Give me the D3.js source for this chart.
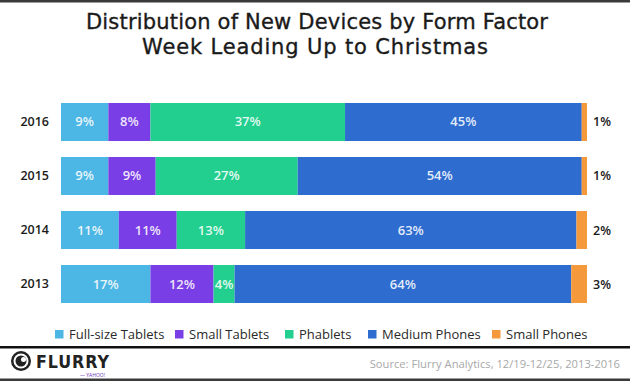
<!DOCTYPE html>
<html><head><meta charset="utf-8">
<script src="https://cdn.jsdelivr.net/npm/d3@7/dist/d3.min.js"></script>
<style>
html,body{margin:0;padding:0;background:#fff;}
svg{display:block;font-family:"Open Sans",sans-serif;}
</style></head>
<body><svg id="c" width="630" height="381"></svg>
<script>
const years = ["2016", "2015", "2014", "2013"];
const seriesNames = ["Full-size Tablets", "Small Tablets", "Phablets", "Medium Phones", "Small Phones"];
const fullSizeTablets = [9, 9, 11, 17];
const smallTablets = [8, 9, 11, 12];
const phablets = [37, 27, 13, 4];
const mediumPhones = [45, 54, 63, 64];
const smallPhones = [1, 1, 2, 3];
const colors = ["#4cb6e4", "#7a3ee6", "#23cf8f", "#2e6dcf", "#f59a3c"];
const titleLines = ["Distribution of New Devices by Form Factor", "Week Leading Up to Christmas"];
const sourceText = "Source: Flurry Analytics, 12/19-12/25, 2013-2016";

const seriesValues = [fullSizeTablets, smallTablets, phablets, mediumPhones, smallPhones];
const rows = years.map((y, i) => {
  const r = {year: y};
  seriesNames.forEach((s, j) => r[s] = seriesValues[j][i]);
  return r;
});
const stack = d3.stack().keys(seriesNames)(rows);

const svg = d3.select("#c");
const W = 630, H = 381;

// frame lines
svg.append("rect").attr("x", 0).attr("y", 0).attr("width", W).attr("height", 2.5).attr("fill", "#3a3a3a");
svg.append("rect").attr("x", 0).attr("y", 346).attr("width", W).attr("height", 2.5).attr("fill", "#111");
svg.append("rect").attr("x", 0).attr("y", 378.5).attr("width", W).attr("height", 2.5).attr("fill", "#3a3a3a");

// title
const titleTargets = [[86, 548, 29], [142, 488, 54]];
const titleSize = 20;
titleLines.forEach((t, i) => {
  const tx = svg.append("text").text(t)
    .attr("x", (titleTargets[i][0] + titleTargets[i][1]) / 2)
    .attr("y", titleTargets[i][2])
    .attr("text-anchor", "middle")
    .attr("font-family", "'DejaVu Sans',sans-serif")
    .attr("font-size", titleSize).attr("fill", "#1a1a1a")
    .attr("stroke", "#1a1a1a").attr("stroke-width", 0.35);
  const len = tx.node().getComputedTextLength();
  const target = titleTargets[i][1] - titleTargets[i][0];
  const fs = Math.min(21, titleSize * target / len);
  tx.attr("font-size", fs);
  const len2 = tx.node().getComputedTextLength();
  if (Math.abs(len2 - target) > 2) tx.attr("textLength", target).attr("lengthAdjust", "spacing");
});

const x = d3.scaleLinear().domain([0, 100]).range([61, 587]);
const y = d3.scaleBand().domain(years).range([103, 303]).paddingInner(0.2963).paddingOuter(0);

const g = svg.append("g");
stack.forEach((layer, j) => {
  g.selectAll(null).data(layer).enter().append("rect")
    .attr("x", d => x(d[0]))
    .attr("y", d => y(d.data.year))
    .attr("width", d => x(d[1]) - x(d[0]))
    .attr("height", y.bandwidth())
    .attr("fill", colors[j]);
  if (j < 4) {
    g.selectAll(null).data(layer).enter().append("text")
      .attr("x", d => (x(d[0]) + x(d[1])) / 2)
      .attr("y", d => y(d.data.year) + y.bandwidth() / 2 + 4.5)
      .attr("text-anchor", "middle")
      .attr("font-size", 13).attr("font-weight", 600)
      .attr("fill", "rgba(255,255,255,0.88)")
      .text(d => (d[1] - d[0]) + "%");
  } else {
    g.selectAll(null).data(layer).enter().append("text")
      .attr("x", d => x(d[1]) + 6)
      .attr("y", d => y(d.data.year) + y.bandwidth() / 2 + 4.5)
      .attr("font-size", 12.5).attr("font-weight", 600)
      .attr("fill", "#1a1a1a")
      .text(d => (d[1] - d[0]) + "%");
  }
});

// year axis
const ax = svg.append("g").attr("transform", "translate(61,0)")
  .call(d3.axisLeft(y).tickSize(0).tickPadding(12));
ax.select(".domain").remove();
ax.selectAll("text").attr("font-size", 12.5).attr("font-weight", 600)
  .attr("fill", "#1a1a1a").attr("font-family", "'Open Sans',sans-serif");

// legend
const legendX = [55, 175, 285, 368, 492];
const lg = svg.append("g");
seriesNames.forEach((s, j) => {
  lg.append("rect").attr("x", legendX[j]).attr("y", 330).attr("width", 8.5).attr("height", 8.5).attr("fill", colors[j]);
  lg.append("text").attr("x", legendX[j] + 14).attr("y", 338.5)
    .attr("font-size", 13).attr("fill", "#2a2a2a").text(s);
});

// footer logo
const logo = svg.append("g");
logo.append("circle").attr("cx", 21).attr("cy", 361).attr("r", 10).attr("fill", "#222");
logo.append("circle").attr("cx", 21).attr("cy", 361).attr("r", 7.5).attr("fill", "#fff");
logo.append("circle").attr("cx", 21).attr("cy", 361).attr("r", 5.5).attr("fill", "#222");
logo.append("circle").attr("cx", 23.5).attr("cy", 359.5).attr("r", 2.5).attr("fill", "#fff");
logo.append("text").attr("x", 36).attr("y", 368).attr("font-size", 17).attr("font-weight", 900)
  .attr("font-family", "'DejaVu Sans',sans-serif").attr("letter-spacing", 1).attr("fill", "#222")
  .attr("textLength", 74).attr("lengthAdjust", "spacingAndGlyphs").text("FLURRY");
logo.append("text").attr("x", 80).attr("y", 376.5).attr("font-size", 5).attr("fill", "#6b2fb5")
  .text("— YAHOO!");

svg.append("text").attr("x", 620).attr("y", 368).attr("text-anchor", "end")
  .attr("font-size", 11.2).attr("fill", "#a8a8a8").text(sourceText);
</script>
</body></html>
